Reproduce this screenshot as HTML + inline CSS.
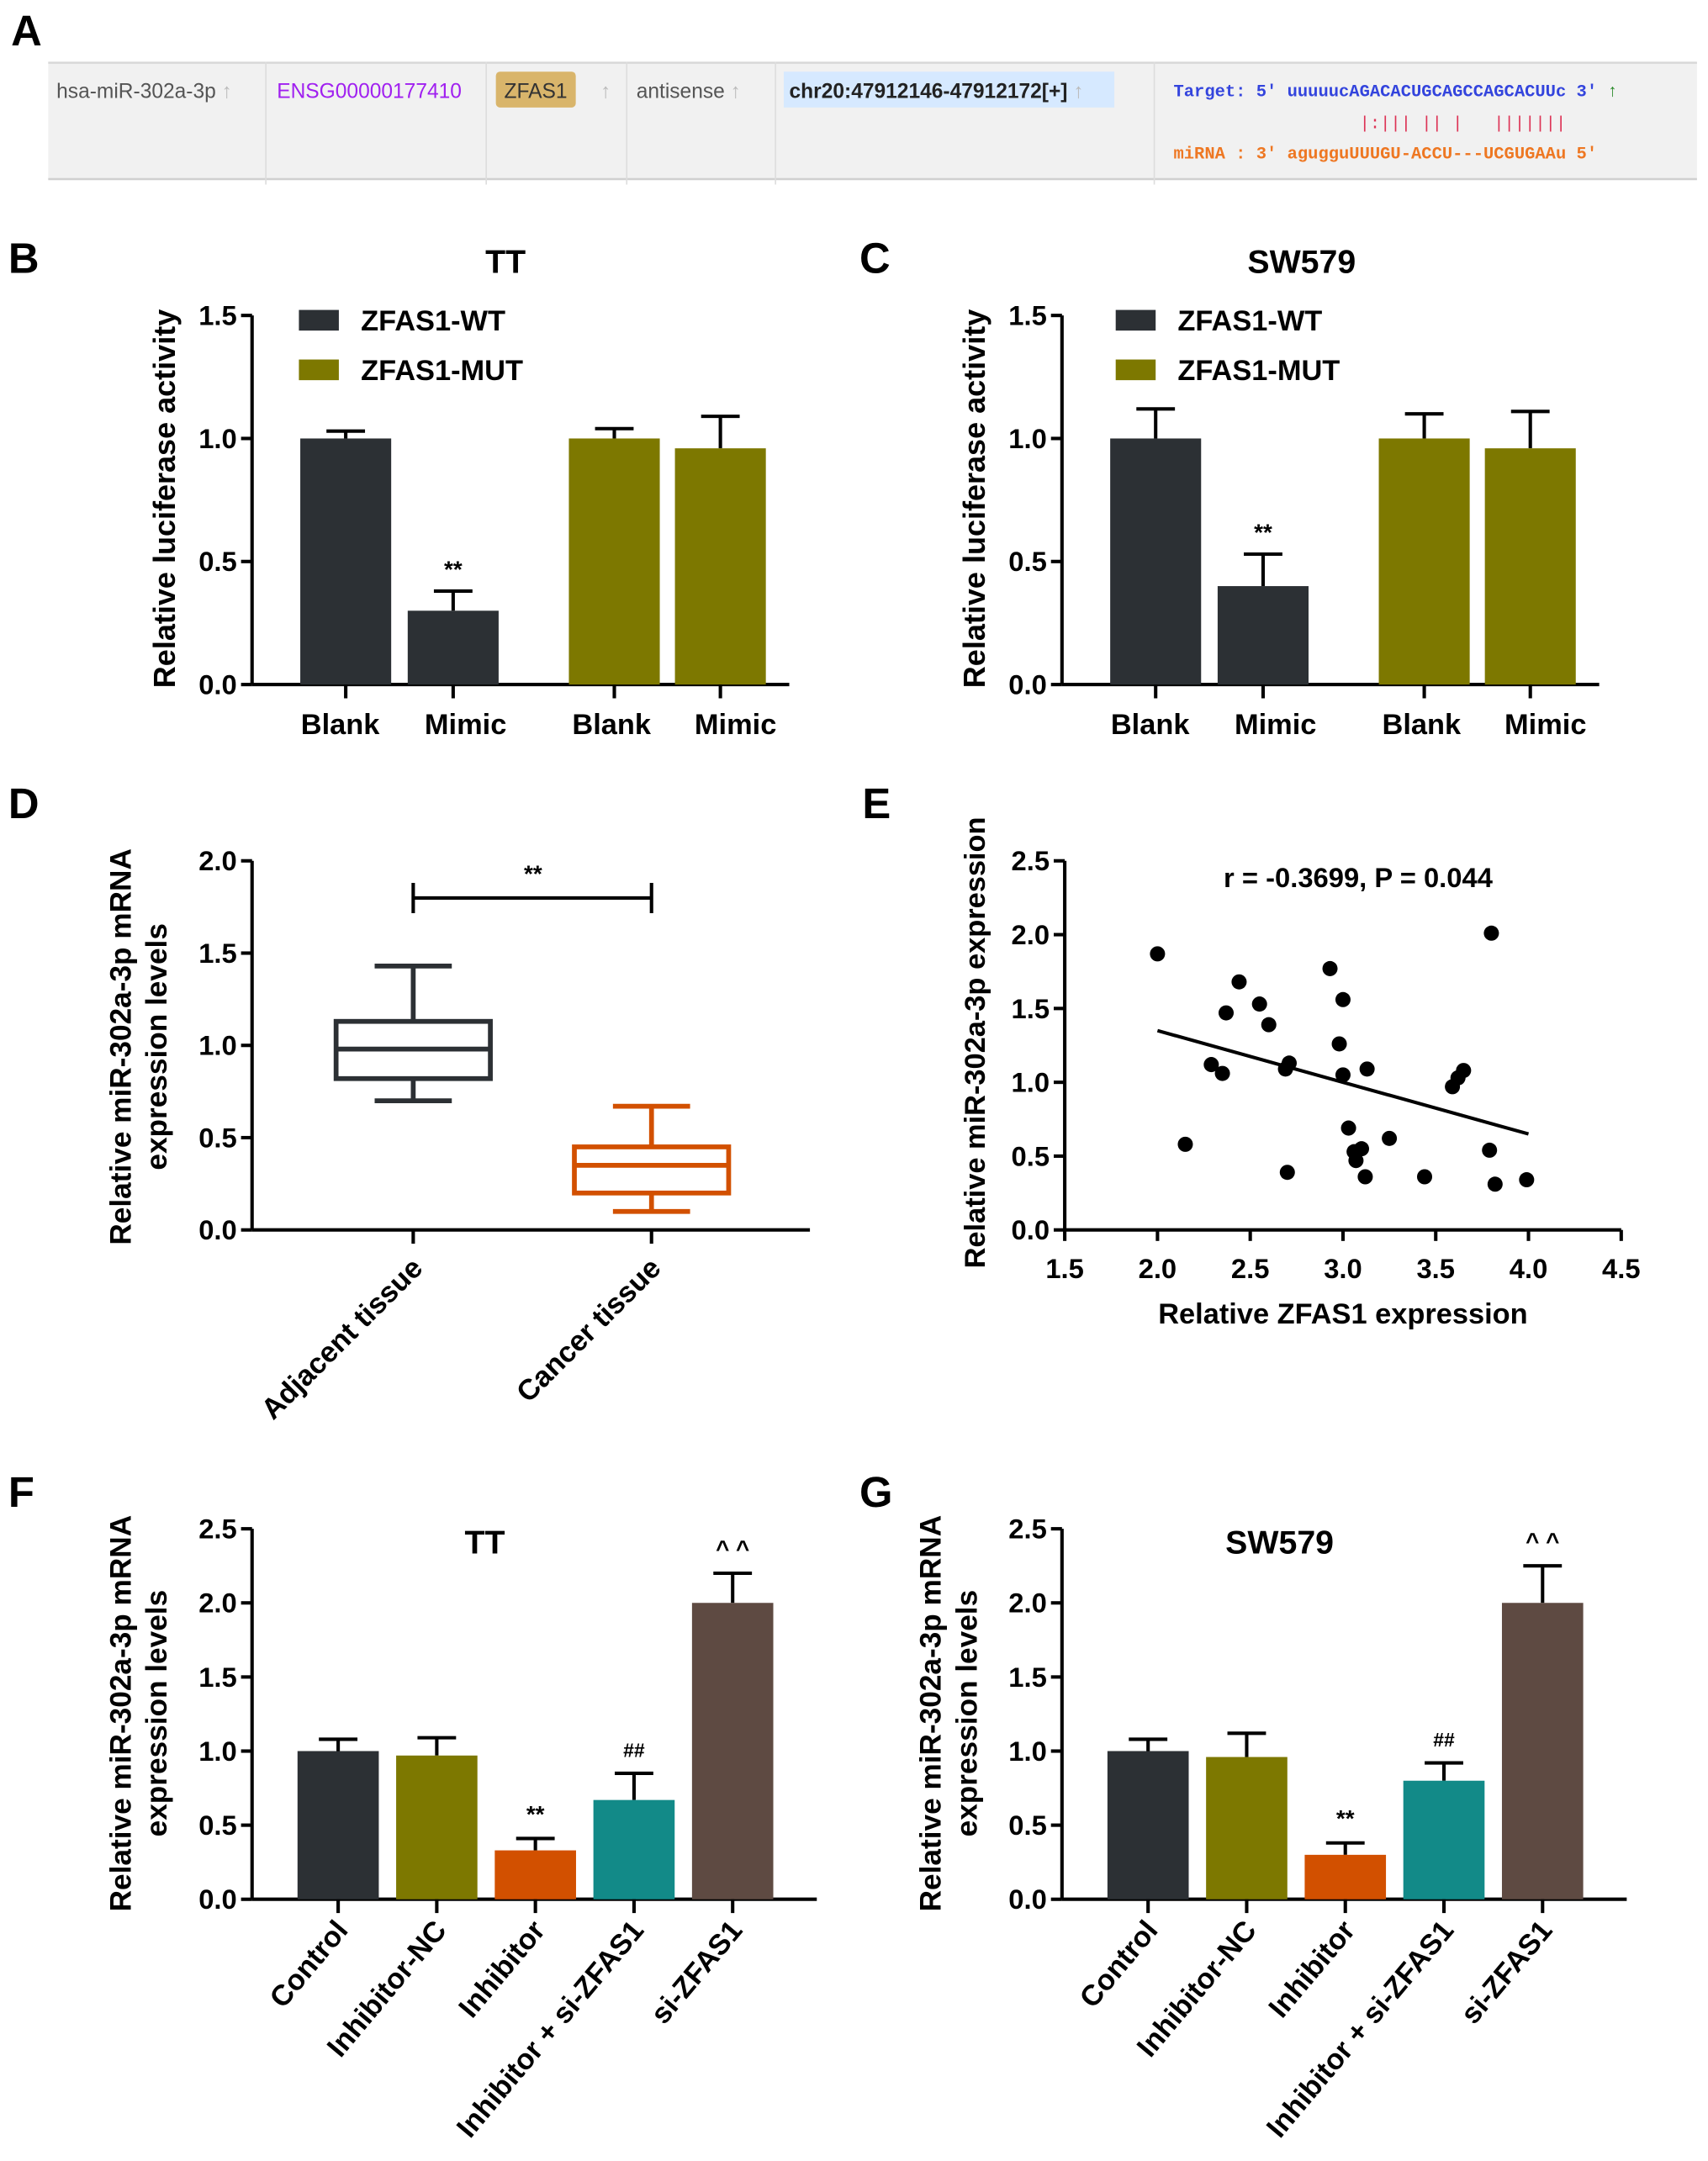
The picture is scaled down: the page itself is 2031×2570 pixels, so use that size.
<!DOCTYPE html>
<html><head><meta charset="utf-8">
<style>
html,body{margin:0;padding:0;background:#fff;}
svg{display:block;}
text{font-family:"Liberation Sans",Arial,sans-serif;}
text.mono{font-family:"Liberation Mono",monospace;}
</style></head>
<body>
<svg id="fig" width="2031" height="2570" viewBox="0 0 1240 1569" xmlns="http://www.w3.org/2000/svg">
<g>
<text x="8" y="33" font-size="31" font-weight="bold">A</text>
<rect x="35" y="45" width="1197" height="85" fill="#f1f1f1"/>
<line x1="35" y1="45.5" x2="1232" y2="45.5" stroke="#d8d8d8" stroke-width="1.5"/>
<line x1="35" y1="130" x2="1232" y2="130" stroke="#d0d0d0" stroke-width="1.5"/>
<g stroke="#dddddd" stroke-width="1">
<line x1="193" y1="45" x2="193" y2="134"/><line x1="353" y1="45" x2="353" y2="134"/><line x1="455" y1="45" x2="455" y2="134"/><line x1="563" y1="45" x2="563" y2="134"/><line x1="838" y1="45" x2="838" y2="134"/>
</g>
<text x="41" y="71" font-size="15" fill="#555">hsa-miR-302a-3p <tspan fill="#bbb">↑</tspan></text>
<text x="201" y="71" font-size="15" fill="#a020f0">ENSG00000177410</text>
<rect x="360" y="52" width="58" height="26" rx="3" fill="#d9b56b"/>
<text x="366" y="71" font-size="15" fill="#333">ZFAS1 <tspan dx="20" fill="#bbb">↑</tspan></text>
<text x="462" y="71" font-size="15" fill="#555">antisense <tspan fill="#bbb">↑</tspan></text>
<rect x="569" y="52" width="240" height="26" fill="#d6e9ff"/>
<text x="573" y="71" font-size="15" fill="#222" font-weight="bold">chr20:47912146-47912172[+] <tspan fill="#bbb" font-weight="normal">↑</tspan></text>
<text class="mono" x="852" y="70" font-size="12.5" fill="#3344dd" font-weight="bold">Target: 5' uuuuucAGACACUGCAGCCAGCACUUc 3' <tspan fill="#2a8a2a">↑</tspan></text>
<text class="mono" x="852" y="93" font-size="12.5" fill="#dd3355" xml:space="preserve">                  |:||| || |   |||||||</text>
<text class="mono" x="852" y="115" font-size="12.5" fill="#ee7722" font-weight="bold">miRNA : 3' agugguUUUGU-ACCU---UCGUGAAu 5'</text>
</g>
</svg>
<script>
const NS='http://www.w3.org/2000/svg';
const fig=document.getElementById('fig');
function el(tag,attrs,parent,txt){const e=document.createElementNS(NS,tag);for(const k in attrs)e.setAttribute(k,attrs[k]);if(txt!==undefined)e.textContent=txt;(parent||fig).appendChild(e);return e;}

// ---------- DATA ----------
const bCats=['Blank','Mimic','Blank','Mimic'];
const bTT=[1.0,0.30,1.0,0.96];
const bTTerr=[0.03,0.08,0.04,0.13];
const bSW=[1.0,0.40,1.0,0.96];
const bSWerr=[0.12,0.13,0.10,0.15];
const bTicks=[0,0.5,1.0,1.5];
const dCats=['Adjacent tissue','Cancer tissue'];
const dMin=[0.70,0.10];
const dQ1=[0.82,0.20];
const dMed=[0.98,0.35];
const dQ3=[1.13,0.45];
const dMax=[1.43,0.67];
const dTicks=[0,0.5,1.0,1.5,2.0];
const eX=[2.0,2.37,2.44,2.29,2.35,2.55,2.6,2.15,2.71,2.69,2.70,2.93,3.0,2.98,3.0,3.03,3.06,3.1,3.07,3.13,3.12,3.25,3.44,3.59,3.62,3.65,3.8,3.79,3.82,3.99];
const eY=[1.87,1.47,1.68,1.12,1.06,1.53,1.39,0.58,1.13,1.09,0.39,1.77,1.56,1.26,1.05,0.69,0.53,0.55,0.47,1.09,0.36,0.62,0.36,0.97,1.03,1.08,2.01,0.54,0.31,0.34];
const eFit=[2.0,1.35,4.0,0.65];
const eXTicks=[1.5,2.0,2.5,3.0,3.5,4.0,4.5];
const eYTicks=[0,0.5,1.0,1.5,2.0,2.5];
const fCats=['Control','Inhibitor-NC','Inhibitor','Inhibitor + si-ZFAS1','si-ZFAS1'];
const fTT=[1.0,0.97,0.33,0.67,2.0];
const fTTerr=[0.08,0.12,0.08,0.18,0.20];
const fSW=[1.0,0.96,0.30,0.80,2.0];
const fSWerr=[0.08,0.16,0.08,0.12,0.25];
const fMarks=['','','**','##','^ ^'];
const fTicks=[0,0.5,1.0,1.5,2.0,2.5];

const DARK='#2c3034',OLIVE='#7d7800',ORANGE='#d25000',TEAL='#128a88',BROWN='#5e4a42';

function panelLabel(t,x,y){const e=el('text',{x:x,y:y,'font-size':31,'font-weight':'bold'},fig,t);

}

function yAxis(g,ax,y0,y1,vmin,vmax,ticks){
 const sy=v=>y0-(v-vmin)/(vmax-vmin)*(y0-y1);
 const l=el('line',{x1:ax,y1:y0,x2:ax,y2:y1,stroke:'#000','stroke-width':2.5},g);
 
 
 ticks.forEach(t=>{el('line',{x1:ax-8,y1:sy(t),x2:ax,y2:sy(t),stroke:'#000','stroke-width':2.5},g);
  const tx=el('text',{x:ax-11,y:sy(t)+7,'font-size':20,'font-weight':'bold','text-anchor':'end'},g,t.toFixed(1));
  
  });
 return sy;
}
function yTitle(g,x,cy,lines,fs){
 lines.forEach((s,i)=>{const t=el('text',{x:0,y:0,'font-size':fs||21,'font-weight':'bold','text-anchor':'middle',transform:`translate(${x+i*26},${cy}) rotate(-90)`},g,s);
 
 });
}

// ---------- B & C ----------
function panelB(name,ax,title,tx,vals,errs,legX){
 const g=el('g',{});
 
 
 const sy=yAxis(g,ax,497,229,0,1.5,bTicks);
 const xl=el('line',{x1:ax,y1:497,x2:ax+390,y2:497,stroke:'#000','stroke-width':2.5},g);
 
 
 const lefts=[35,113,230,307];
 const lblOff=[-4,9,-2,11];
 vals.forEach((v,i)=>{const x=ax+lefts[i],w=66,c=x+w/2;const col=i<2?DARK:OLIVE;
  const top=sy(v+errs[i]);
  el('line',{x1:c,y1:sy(v),x2:c,y2:top,stroke:'#000','stroke-width':2.5},g);
  el('line',{x1:c-14,y1:top,x2:c+14,y2:top,stroke:'#000','stroke-width':2.5},g);
  const r=el('rect',{x:x,y:sy(v),width:w,height:497-sy(v),fill:col},g);
  
  
  el('line',{x1:c,y1:497,x2:c,y2:507,stroke:'#000','stroke-width':2.5},g);
  const lb=el('text',{x:c+lblOff[i],y:533,'font-size':21,'font-weight':'bold','text-anchor':'middle'},g,bCats[i]);
  
  
  if(i==1){const s=el('text',{x:c,y:top-10,'font-size':17,'font-weight':'bold','text-anchor':'middle'},g,'**');
   
   }
 });
 const t=el('text',{x:tx,y:198,'font-size':24,'font-weight':'bold','text-anchor':'middle'},g,title);
 
 
 [['ZFAS1-WT',DARK,225],['ZFAS1-MUT',OLIVE,261]].forEach(([s,c,y])=>{
  const r=el('rect',{x:legX,y:y,width:29,height:15,fill:c},g);
  
  
  const lt=el('text',{x:legX+45,y:y+15,'font-size':21,'font-weight':'bold'},g,s);
  
  });
 yTitle(g,ax-56,362,['Relative luciferase activity'],22);
}
panelLabel('B',6,198);panelLabel('C',624,198);
panelB('panel-b-chart',183,'TT',367,bTT,bTTerr,217);
panelB('panel-c-chart',771,'SW579',945,bSW,bSWerr,810);

// ---------- D ----------
(function(){
 panelLabel('D',6,594);
 const g=el('g',{});
 
 
 const ax=183,sy=yAxis(g,ax,893,625,0,2.0,dTicks);
 const xl=el('line',{x1:ax,y1:893,x2:588,y2:893,stroke:'#000','stroke-width':2.5},g);
 
 
 const centers=[300,473],cols=[DARK,ORANGE];
 dCats.forEach((c,i)=>{const cx=centers[i],col=cols[i],hw=56;
  const bg=el('g',{stroke:col,'stroke-width':3.5,fill:'none'},g);
  
  
  el('line',{x1:cx,y1:sy(dMax[i]),x2:cx,y2:sy(dQ3[i])},bg);
  el('line',{x1:cx,y1:sy(dMin[i]),x2:cx,y2:sy(dQ1[i])},bg);
  el('line',{x1:cx-28,y1:sy(dMax[i]),x2:cx+28,y2:sy(dMax[i])},bg);
  el('line',{x1:cx-28,y1:sy(dMin[i]),x2:cx+28,y2:sy(dMin[i])},bg);
  el('rect',{x:cx-hw,y:sy(dQ3[i]),width:2*hw,height:sy(dQ1[i])-sy(dQ3[i])},bg);
  el('line',{x1:cx-hw,y1:sy(dMed[i]),x2:cx+hw,y2:sy(dMed[i])},bg);
  el('line',{x1:cx,y1:893,x2:cx,y2:903,stroke:'#000','stroke-width':2.5},g);
  const t=el('text',{x:0,y:0,'font-size':21,'font-weight':'bold','text-anchor':'end',transform:`translate(${cx+8},${922}) rotate(-45)`},g,c);
  
  
 });
 const br=el('path',{d:`M${centers[0]},641 V663 M${centers[0]},652 H${centers[1]} M${centers[1]},641 V663`,stroke:'#000','stroke-width':2.5,fill:'none'},g);
 
 
 const s=el('text',{x:387,y:640,'font-size':17,'font-weight':'bold','text-anchor':'middle'},g,'**');
 
 
 yTitle(g,95,760,['Relative miR-302a-3p mRNA','expression levels'],21.5);
})();

// ---------- E ----------
(function(){
 panelLabel('E',626,594);
 const g=el('g',{});
 
 
 const ax=773,sy=yAxis(g,ax,893,625,0,2.5,eYTicks);
 const sx=v=>773+(v-1.5)/3.0*404;
 const xl=el('line',{x1:ax,y1:893,x2:1177,y2:893,stroke:'#000','stroke-width':2.5},g);
 
 
 eXTicks.forEach(t=>{el('line',{x1:sx(t),y1:893,x2:sx(t),y2:901,stroke:'#000','stroke-width':2.5},g);
  const tx=el('text',{x:sx(t),y:928,'font-size':20,'font-weight':'bold','text-anchor':'middle'},g,t.toFixed(1));
  
  });
 eX.forEach((x,i)=>{const c=el('circle',{cx:sx(x),cy:sy(eY[i]),r:5.5,fill:'#000'},g);
  
  });
 const fl=el('line',{x1:sx(eFit[0]),y1:sy(eFit[1]),x2:sx(eFit[2]),y2:sy(eFit[3]),stroke:'#000','stroke-width':2.5},g);
 
 
 const st=el('text',{x:986,y:644,'font-size':20,'font-weight':'bold','text-anchor':'middle'},g,'r = -0.3699, P = 0.044');
 
 
 const xt=el('text',{x:975,y:961,'font-size':21,'font-weight':'bold','text-anchor':'middle'},g,'Relative ZFAS1 expression');
 
 
 yTitle(g,715,757,['Relative miR-302a-3p expression']);
})();

// ---------- F & G ----------
function panelF(name,ax,title,tx,vals,errs){
 const g=el('g',{});
 
 
 const sy=yAxis(g,ax,1379,1110,0,2.5,fTicks);
 const xl=el('line',{x1:ax,y1:1379,x2:ax+410,y2:1379,stroke:'#000','stroke-width':2.5},g);
 
 
 const cols=[DARK,OLIVE,ORANGE,TEAL,BROWN];
 vals.forEach((v,i)=>{const w=59,x=ax+33+i*71.6,c=x+w/2;const top=sy(v+errs[i]);
  el('line',{x1:c,y1:sy(v),x2:c,y2:top,stroke:'#000','stroke-width':2.5},g);
  el('line',{x1:c-14,y1:top,x2:c+14,y2:top,stroke:'#000','stroke-width':2.5},g);
  const r=el('rect',{x:x,y:sy(v),width:w,height:1379-sy(v),fill:cols[i]},g);
  
  
  el('line',{x1:c,y1:1379,x2:c,y2:1389,stroke:'#000','stroke-width':2.5},g);
  const t=el('text',{x:0,y:0,'font-size':21,'font-weight':'bold','text-anchor':'end',transform:`translate(${c+8},${1402}) rotate(-50)`},g,fCats[i]);
  
  
  if(fMarks[i]){const s=el('text',{x:c,y:top-12,'font-size':i==3?14:17,'font-weight':'bold','text-anchor':'middle'},g,fMarks[i]);
   
   }
 });
 const t=el('text',{x:tx,y:1128,'font-size':24,'font-weight':'bold','text-anchor':'middle'},g,title);
 
 
 yTitle(g,ax-88,1244,['Relative miR-302a-3p mRNA','expression levels'],21.5);
}
panelLabel('F',6,1094);panelLabel('G',624,1094);
panelF('panel-f-chart',183,'TT',352,fTT,fTTerr);
panelF('panel-g-chart',771,'SW579',929,fSW,fSWerr);
</script>
</body></html>
